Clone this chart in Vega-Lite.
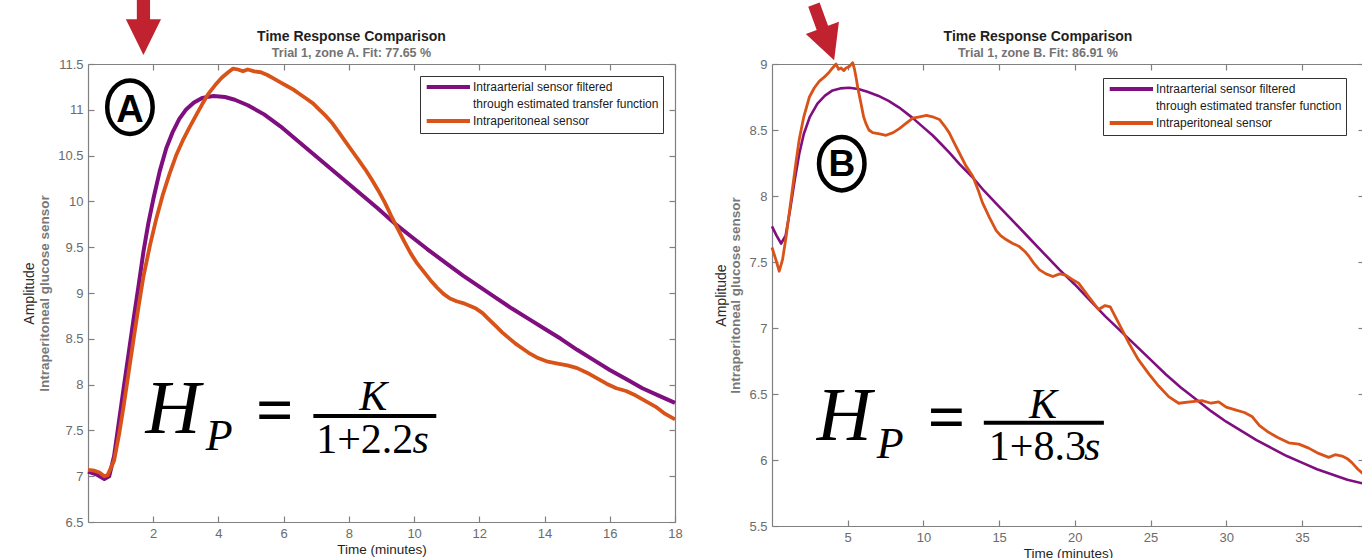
{
  "$schema": "https://vega.github.io/schema/vega-lite/v6.json",
  "background": "white",
  "padding": {"left": 22, "top": 0, "right": 0, "bottom": 0},
  "spacing": 31,
  "config": {
    "view": {"stroke": null},
    "font": "Liberation Sans",
    "axis": {
      "grid": false,
      "domainColor": "#808080",
      "domainWidth": 1.2,
      "tickColor": "#808080",
      "tickWidth": 1.2,
      "tickSize": -6,
      "labelColor": "#6b6b6b",
      "labelFontSize": 13,
      "labelFont": "Liberation Sans",
      "titleFont": "Liberation Sans",
      "labelFlush": false,
      "labelOverlap": false
    },
    "title": {
      "font": "Liberation Sans",
      "fontSize": 14,
      "fontWeight": "bold",
      "color": "#1f1f1f",
      "subtitleFont": "Liberation Sans",
      "subtitleFontSize": 12.5,
      "subtitleFontWeight": "bold",
      "subtitleColor": "#737373",
      "subtitlePadding": 3,
      "anchor": "middle",
      "frame": "group"
    },
    "legend": {
      "orient": "none",
      "title": null,
      "symbolType": "M -0.86 0 L 7.8 0",
      "symbolSize": 100,
      "symbolStrokeWidth": 4,
      "strokeColor": "#333333",
      "fillColor": "#ffffff",
      "padding": 4,
      "rowPadding": 1,
      "labelOffset": 35,
      "labelFontSize": 12,
      "labelFont": "Liberation Sans",
      "labelColor": "#1a1a1a",
      "labelLimit": 400
    }
  },
  "resolve": {"scale": {"color": "independent"}, "legend": {"color": "independent"}},
  "datasets": {
    "lines": [
      {"p":"A","s":"art","t":0,"v":7.05},{"p":"A","s":"art","t":0.25,"v":7.02},{"p":"A","s":"art","t":0.5,"v":6.97},{"p":"A","s":"art","t":0.65,"v":7.0},{"p":"A","s":"art","t":0.8,"v":7.22},{"p":"A","s":"art","t":0.95,"v":7.6},{"p":"A","s":"art","t":1.1,"v":7.98},{"p":"A","s":"art","t":1.25,"v":8.35},{"p":"A","s":"art","t":1.4,"v":8.72},{"p":"A","s":"art","t":1.55,"v":9.08},{"p":"A","s":"art","t":1.7,"v":9.45},{"p":"A","s":"art","t":1.85,"v":9.76},{"p":"A","s":"art","t":2.0,"v":10.02},{"p":"A","s":"art","t":2.2,"v":10.33},{"p":"A","s":"art","t":2.4,"v":10.58},{"p":"A","s":"art","t":2.6,"v":10.76},{"p":"A","s":"art","t":2.8,"v":10.9},{"p":"A","s":"art","t":3.0,"v":11.0},{"p":"A","s":"art","t":3.25,"v":11.08},{"p":"A","s":"art","t":3.5,"v":11.13},{"p":"A","s":"art","t":3.85,"v":11.15},{"p":"A","s":"art","t":4.2,"v":11.14},{"p":"A","s":"art","t":4.5,"v":11.11},{"p":"A","s":"art","t":4.9,"v":11.05},{"p":"A","s":"art","t":5.4,"v":10.95},{"p":"A","s":"art","t":5.9,"v":10.82},{"p":"A","s":"art","t":6.4,"v":10.67},{"p":"A","s":"art","t":6.9,"v":10.52},{"p":"A","s":"art","t":7.4,"v":10.37},{"p":"A","s":"art","t":7.9,"v":10.22},{"p":"A","s":"art","t":8.4,"v":10.07},{"p":"A","s":"art","t":8.9,"v":9.92},{"p":"A","s":"art","t":9.4,"v":9.76},{"p":"A","s":"art","t":9.9,"v":9.62},{"p":"A","s":"art","t":10.4,"v":9.48},{"p":"A","s":"art","t":11.0,"v":9.32},{"p":"A","s":"art","t":11.5,"v":9.19},{"p":"A","s":"art","t":12.0,"v":9.07},{"p":"A","s":"art","t":12.5,"v":8.95},{"p":"A","s":"art","t":13.0,"v":8.83},{"p":"A","s":"art","t":13.5,"v":8.72},{"p":"A","s":"art","t":14.0,"v":8.61},{"p":"A","s":"art","t":14.5,"v":8.5},{"p":"A","s":"art","t":15.0,"v":8.38},{"p":"A","s":"art","t":15.5,"v":8.27},{"p":"A","s":"art","t":16.0,"v":8.16},{"p":"A","s":"art","t":16.5,"v":8.06},{"p":"A","s":"art","t":17.0,"v":7.96},{"p":"A","s":"art","t":17.5,"v":7.88},{"p":"A","s":"art","t":18.0,"v":7.8},
      {"p":"A","s":"per","t":0,"v":7.07},{"p":"A","s":"per","t":0.2,"v":7.06},{"p":"A","s":"per","t":0.35,"v":7.04},{"p":"A","s":"per","t":0.5,"v":7.0},{"p":"A","s":"per","t":0.6,"v":7.01},{"p":"A","s":"per","t":0.8,"v":7.17},{"p":"A","s":"per","t":0.95,"v":7.45},{"p":"A","s":"per","t":1.1,"v":7.78},{"p":"A","s":"per","t":1.25,"v":8.14},{"p":"A","s":"per","t":1.4,"v":8.5},{"p":"A","s":"per","t":1.55,"v":8.85},{"p":"A","s":"per","t":1.7,"v":9.18},{"p":"A","s":"per","t":1.9,"v":9.52},{"p":"A","s":"per","t":2.1,"v":9.82},{"p":"A","s":"per","t":2.3,"v":10.08},{"p":"A","s":"per","t":2.5,"v":10.3},{"p":"A","s":"per","t":2.7,"v":10.5},{"p":"A","s":"per","t":2.9,"v":10.66},{"p":"A","s":"per","t":3.1,"v":10.8},{"p":"A","s":"per","t":3.3,"v":10.93},{"p":"A","s":"per","t":3.5,"v":11.06},{"p":"A","s":"per","t":3.7,"v":11.18},{"p":"A","s":"per","t":3.9,"v":11.27},{"p":"A","s":"per","t":4.1,"v":11.35},{"p":"A","s":"per","t":4.3,"v":11.41},{"p":"A","s":"per","t":4.45,"v":11.45},{"p":"A","s":"per","t":4.6,"v":11.44},{"p":"A","s":"per","t":4.75,"v":11.42},{"p":"A","s":"per","t":4.9,"v":11.44},{"p":"A","s":"per","t":5.1,"v":11.42},{"p":"A","s":"per","t":5.3,"v":11.41},{"p":"A","s":"per","t":5.5,"v":11.38},{"p":"A","s":"per","t":5.7,"v":11.34},{"p":"A","s":"per","t":5.9,"v":11.3},{"p":"A","s":"per","t":6.1,"v":11.26},{"p":"A","s":"per","t":6.3,"v":11.22},{"p":"A","s":"per","t":6.5,"v":11.17},{"p":"A","s":"per","t":6.7,"v":11.12},{"p":"A","s":"per","t":6.9,"v":11.07},{"p":"A","s":"per","t":7.1,"v":11.0},{"p":"A","s":"per","t":7.3,"v":10.93},{"p":"A","s":"per","t":7.5,"v":10.85},{"p":"A","s":"per","t":7.7,"v":10.75},{"p":"A","s":"per","t":7.9,"v":10.65},{"p":"A","s":"per","t":8.1,"v":10.55},{"p":"A","s":"per","t":8.3,"v":10.45},{"p":"A","s":"per","t":8.5,"v":10.35},{"p":"A","s":"per","t":8.7,"v":10.24},{"p":"A","s":"per","t":8.9,"v":10.12},{"p":"A","s":"per","t":9.1,"v":9.99},{"p":"A","s":"per","t":9.3,"v":9.84},{"p":"A","s":"per","t":9.5,"v":9.7},{"p":"A","s":"per","t":9.7,"v":9.56},{"p":"A","s":"per","t":9.9,"v":9.43},{"p":"A","s":"per","t":10.1,"v":9.32},{"p":"A","s":"per","t":10.3,"v":9.23},{"p":"A","s":"per","t":10.5,"v":9.14},{"p":"A","s":"per","t":10.7,"v":9.06},{"p":"A","s":"per","t":10.9,"v":8.99},{"p":"A","s":"per","t":11.1,"v":8.94},{"p":"A","s":"per","t":11.3,"v":8.91},{"p":"A","s":"per","t":11.5,"v":8.89},{"p":"A","s":"per","t":11.7,"v":8.86},{"p":"A","s":"per","t":11.9,"v":8.83},{"p":"A","s":"per","t":12.1,"v":8.78},{"p":"A","s":"per","t":12.3,"v":8.71},{"p":"A","s":"per","t":12.5,"v":8.64},{"p":"A","s":"per","t":12.7,"v":8.57},{"p":"A","s":"per","t":12.9,"v":8.51},{"p":"A","s":"per","t":13.1,"v":8.45},{"p":"A","s":"per","t":13.3,"v":8.4},{"p":"A","s":"per","t":13.5,"v":8.35},{"p":"A","s":"per","t":13.8,"v":8.29},{"p":"A","s":"per","t":14.1,"v":8.25},{"p":"A","s":"per","t":14.4,"v":8.23},{"p":"A","s":"per","t":14.7,"v":8.21},{"p":"A","s":"per","t":15.0,"v":8.18},{"p":"A","s":"per","t":15.3,"v":8.13},{"p":"A","s":"per","t":15.6,"v":8.07},{"p":"A","s":"per","t":15.9,"v":8.01},{"p":"A","s":"per","t":16.2,"v":7.96},{"p":"A","s":"per","t":16.5,"v":7.93},{"p":"A","s":"per","t":16.8,"v":7.88},{"p":"A","s":"per","t":17.1,"v":7.82},{"p":"A","s":"per","t":17.4,"v":7.76},{"p":"A","s":"per","t":17.7,"v":7.68},{"p":"A","s":"per","t":18.0,"v":7.62},
      {"p":"B","s":"art","t":0,"v":7.77},{"p":"B","s":"art","t":0.3,"v":7.7},{"p":"B","s":"art","t":0.6,"v":7.64},{"p":"B","s":"art","t":0.9,"v":7.7},{"p":"B","s":"art","t":1.2,"v":7.9},{"p":"B","s":"art","t":1.5,"v":8.12},{"p":"B","s":"art","t":1.8,"v":8.32},{"p":"B","s":"art","t":2.1,"v":8.47},{"p":"B","s":"art","t":2.5,"v":8.6},{"p":"B","s":"art","t":3.0,"v":8.7},{"p":"B","s":"art","t":3.5,"v":8.76},{"p":"B","s":"art","t":4.0,"v":8.8},{"p":"B","s":"art","t":4.5,"v":8.815},{"p":"B","s":"art","t":5.1,"v":8.82},{"p":"B","s":"art","t":5.7,"v":8.81},{"p":"B","s":"art","t":6.3,"v":8.79},{"p":"B","s":"art","t":7.0,"v":8.76},{"p":"B","s":"art","t":7.7,"v":8.72},{"p":"B","s":"art","t":8.4,"v":8.67},{"p":"B","s":"art","t":9.3,"v":8.59},{"p":"B","s":"art","t":10.0,"v":8.52},{"p":"B","s":"art","t":10.6,"v":8.46},{"p":"B","s":"art","t":11.2,"v":8.39},{"p":"B","s":"art","t":11.7,"v":8.33},{"p":"B","s":"art","t":12.4,"v":8.24},{"p":"B","s":"art","t":13.26,"v":8.14},{"p":"B","s":"art","t":14.0,"v":8.04},{"p":"B","s":"art","t":15.0,"v":7.92},{"p":"B","s":"art","t":16.0,"v":7.8},{"p":"B","s":"art","t":17.0,"v":7.68},{"p":"B","s":"art","t":18.0,"v":7.56},{"p":"B","s":"art","t":19.0,"v":7.44},{"p":"B","s":"art","t":20.0,"v":7.33},{"p":"B","s":"art","t":21.0,"v":7.21},{"p":"B","s":"art","t":22.0,"v":7.09},{"p":"B","s":"art","t":23.0,"v":6.98},{"p":"B","s":"art","t":24.0,"v":6.87},{"p":"B","s":"art","t":25.0,"v":6.76},{"p":"B","s":"art","t":26.0,"v":6.65},{"p":"B","s":"art","t":27.0,"v":6.55},{"p":"B","s":"art","t":28.0,"v":6.46},{"p":"B","s":"art","t":29.0,"v":6.37},{"p":"B","s":"art","t":30.0,"v":6.29},{"p":"B","s":"art","t":31.0,"v":6.22},{"p":"B","s":"art","t":32.0,"v":6.15},{"p":"B","s":"art","t":33.0,"v":6.09},{"p":"B","s":"art","t":34.0,"v":6.03},{"p":"B","s":"art","t":35.0,"v":5.98},{"p":"B","s":"art","t":36.0,"v":5.93},{"p":"B","s":"art","t":37.0,"v":5.89},{"p":"B","s":"art","t":38.0,"v":5.85},{"p":"B","s":"art","t":39.1,"v":5.82},
      {"p":"B","s":"per","t":0,"v":7.61},{"p":"B","s":"per","t":0.25,"v":7.52},{"p":"B","s":"per","t":0.48,"v":7.43},{"p":"B","s":"per","t":0.7,"v":7.52},{"p":"B","s":"per","t":0.93,"v":7.69},{"p":"B","s":"per","t":1.15,"v":7.88},{"p":"B","s":"per","t":1.37,"v":8.07},{"p":"B","s":"per","t":1.6,"v":8.27},{"p":"B","s":"per","t":1.8,"v":8.43},{"p":"B","s":"per","t":2.1,"v":8.6},{"p":"B","s":"per","t":2.47,"v":8.75},{"p":"B","s":"per","t":2.8,"v":8.82},{"p":"B","s":"per","t":3.13,"v":8.87},{"p":"B","s":"per","t":3.45,"v":8.9},{"p":"B","s":"per","t":3.79,"v":8.94},{"p":"B","s":"per","t":4.0,"v":8.97},{"p":"B","s":"per","t":4.23,"v":9.0},{"p":"B","s":"per","t":4.4,"v":8.96},{"p":"B","s":"per","t":4.56,"v":8.97},{"p":"B","s":"per","t":4.75,"v":8.95},{"p":"B","s":"per","t":4.89,"v":8.97},{"p":"B","s":"per","t":5.1,"v":8.98},{"p":"B","s":"per","t":5.33,"v":9.01},{"p":"B","s":"per","t":5.45,"v":8.96},{"p":"B","s":"per","t":5.55,"v":8.9},{"p":"B","s":"per","t":5.7,"v":8.8},{"p":"B","s":"per","t":5.88,"v":8.7},{"p":"B","s":"per","t":6.05,"v":8.6},{"p":"B","s":"per","t":6.2,"v":8.55},{"p":"B","s":"per","t":6.4,"v":8.5},{"p":"B","s":"per","t":6.65,"v":8.48},{"p":"B","s":"per","t":7.1,"v":8.47},{"p":"B","s":"per","t":7.53,"v":8.46},{"p":"B","s":"per","t":8.0,"v":8.48},{"p":"B","s":"per","t":8.41,"v":8.51},{"p":"B","s":"per","t":8.85,"v":8.55},{"p":"B","s":"per","t":9.3,"v":8.59},{"p":"B","s":"per","t":9.75,"v":8.6},{"p":"B","s":"per","t":10.2,"v":8.61},{"p":"B","s":"per","t":10.6,"v":8.6},{"p":"B","s":"per","t":11.06,"v":8.58},{"p":"B","s":"per","t":11.4,"v":8.53},{"p":"B","s":"per","t":11.7,"v":8.48},{"p":"B","s":"per","t":12.0,"v":8.41},{"p":"B","s":"per","t":12.4,"v":8.32},{"p":"B","s":"per","t":12.8,"v":8.23},{"p":"B","s":"per","t":13.26,"v":8.15},{"p":"B","s":"per","t":13.6,"v":8.05},{"p":"B","s":"per","t":13.9,"v":7.95},{"p":"B","s":"per","t":14.35,"v":7.84},{"p":"B","s":"per","t":14.8,"v":7.74},{"p":"B","s":"per","t":15.1,"v":7.7},{"p":"B","s":"per","t":15.46,"v":7.67},{"p":"B","s":"per","t":15.9,"v":7.64},{"p":"B","s":"per","t":16.3,"v":7.62},{"p":"B","s":"per","t":16.7,"v":7.58},{"p":"B","s":"per","t":16.99,"v":7.54},{"p":"B","s":"per","t":17.3,"v":7.49},{"p":"B","s":"per","t":17.67,"v":7.44},{"p":"B","s":"per","t":18.1,"v":7.41},{"p":"B","s":"per","t":18.55,"v":7.39},{"p":"B","s":"per","t":19.0,"v":7.41},{"p":"B","s":"per","t":19.4,"v":7.4},{"p":"B","s":"per","t":19.8,"v":7.37},{"p":"B","s":"per","t":20.25,"v":7.34},{"p":"B","s":"per","t":20.9,"v":7.24},{"p":"B","s":"per","t":21.57,"v":7.14},{"p":"B","s":"per","t":22.0,"v":7.17},{"p":"B","s":"per","t":22.34,"v":7.16},{"p":"B","s":"per","t":22.7,"v":7.08},{"p":"B","s":"per","t":23.11,"v":6.99},{"p":"B","s":"per","t":23.6,"v":6.88},{"p":"B","s":"per","t":24.2,"v":6.76},{"p":"B","s":"per","t":24.9,"v":6.65},{"p":"B","s":"per","t":25.54,"v":6.56},{"p":"B","s":"per","t":26.2,"v":6.48},{"p":"B","s":"per","t":26.86,"v":6.43},{"p":"B","s":"per","t":27.6,"v":6.44},{"p":"B","s":"per","t":28.4,"v":6.45},{"p":"B","s":"per","t":29.0,"v":6.43},{"p":"B","s":"per","t":29.5,"v":6.44},{"p":"B","s":"per","t":30.0,"v":6.4},{"p":"B","s":"per","t":30.6,"v":6.38},{"p":"B","s":"per","t":31.2,"v":6.36},{"p":"B","s":"per","t":31.7,"v":6.33},{"p":"B","s":"per","t":32.2,"v":6.26},{"p":"B","s":"per","t":32.8,"v":6.21},{"p":"B","s":"per","t":33.4,"v":6.17},{"p":"B","s":"per","t":34.13,"v":6.13},{"p":"B","s":"per","t":34.8,"v":6.12},{"p":"B","s":"per","t":35.45,"v":6.09},{"p":"B","s":"per","t":36.1,"v":6.05},{"p":"B","s":"per","t":36.77,"v":6.02},{"p":"B","s":"per","t":37.2,"v":6.04},{"p":"B","s":"per","t":37.65,"v":6.03},{"p":"B","s":"per","t":38.0,"v":6.01},{"p":"B","s":"per","t":38.3,"v":5.98},{"p":"B","s":"per","t":38.7,"v":5.93},{"p":"B","s":"per","t":39.1,"v":5.89}
    ],
    "notes": [
      {"p":"A","k":"arrow","t":1.70,"v":11.898},
      {"p":"A","k":"ring","t":1.286,"v":11.028},
      {"p":"A","k":"letter","t":1.286,"v":10.872,"label":"A"},
      {"p":"A","k":"H","t":1.763,"v":7.472,"label":"H"},
      {"p":"A","k":"P","t":3.609,"v":7.286,"label":"P"},
      {"p":"A","k":"eq","t":5.154,"v":7.483,"label":"="},
      {"p":"A","k":"it","t":8.317,"v":7.723,"label":"K"},
      {"p":"A","k":"it","t":9.948,"v":7.253,"label":"s"},
      {"p":"A","k":"den","t":6.997,"v":7.253,"label":"1+2.2"},
      {"p":"A","k":"bar","t":6.91,"t2":10.68,"v":7.657},
      {"p":"B","k":"arrow","t":3.483,"v":9.2247},
      {"p":"B","k":"ring","t":4.607,"v":8.245},
      {"p":"B","k":"letter","t":4.607,"v":8.148,"label":"B"},
      {"p":"B","k":"H","t":2.954,"v":6.154,"label":"H"},
      {"p":"B","k":"P","t":6.92,"v":6.017,"label":"P"},
      {"p":"B","k":"eq","t":10.285,"v":6.157,"label":"="},
      {"p":"B","k":"it","t":16.97,"v":6.32,"label":"K"},
      {"p":"B","k":"it","t":20.6,"v":6.002,"label":"s"},
      {"p":"B","k":"den","t":14.32,"v":6.002,"label":"1+8.3"},
      {"p":"B","k":"bar","t":13.99,"t2":21.92,"v":6.282}
    ]
  },
  "hconcat": [
    {
      "vconcat": [
        {
          "width": 587,
          "height": 458,
          "title": {"text": "Time Response Comparison", "subtitle": "Trial 1, zone A. Fit: 77.65 %", "dx": -30, "offset": -59.5},
          "resolve": {"axis": {"x": "independent", "y": "independent"}},
          "layer": [
            {
              "data": {"name": "lines"},
              "transform": [{"filter": "datum.p == 'A' && datum.s == 'art'"}],
              "mark": {"type": "line", "strokeWidth": 4, "strokeJoin": "round"},
              "encoding": {
                "x": {"field": "t", "type": "quantitative", "scale": {"domain": [0, 18], "nice": false, "zero": false},
                      "axis": {"orient": "bottom", "values": [2,4,6,8,10,12,14,16,18], "format": "~g", "labelPadding": 11, "title": "Time (minutes)", "titleFontSize": 13.5, "titleFontWeight": "normal", "titleColor": "#1f1f1f", "titlePadding": 2}},
                "y": {"field": "v", "type": "quantitative", "scale": {"domain": [6.5, 11.5], "nice": false, "zero": false},
                      "axis": {"orient": "left", "values": [6.5,7,7.5,8,8.5,9,9.5,10,10.5,11,11.5], "format": "~g", "labelPadding": 11, "title": "Intraperitoneal glucose sensor", "titleFontSize": 13.5, "titleFontWeight": "bold", "titleColor": "#787878", "titlePadding": 6}},
                "color": {"field": "s", "type": "nominal",
                          "scale": {"domain": ["art", "art2", "per"], "range": ["#7f0f7f", "rgba(0,0,0,0)", "#D95319"]},
                          "legend": {"legendX": 332, "legendY": 12, "labelExpr": "datum.value == 'art' ? 'Intraarterial sensor filtered' : datum.value == 'art2' ? 'through estimated transfer function' : 'Intraperitoneal sensor'"}}
              }
            },
            {
              "data": {"name": "lines"},
              "transform": [{"filter": "datum.p == 'A' && datum.s == 'per'"}],
              "mark": {"type": "line", "strokeWidth": 3.8, "strokeJoin": "round"},
              "encoding": {
                "x": {"field": "t", "type": "quantitative", "scale": {"domain": [0, 18], "nice": false, "zero": false}, "axis": null},
                "y": {"field": "v", "type": "quantitative", "scale": {"domain": [6.5, 11.5], "nice": false, "zero": false}, "axis": null},
                "color": {"field": "s", "type": "nominal",
                          "scale": {"domain": ["art", "art2", "per"], "range": ["#7f0f7f", "rgba(0,0,0,0)", "#D95319"]},
                          "legend": {"legendX": 332, "legendY": 12, "labelExpr": "datum.value == 'art' ? 'Intraarterial sensor filtered' : datum.value == 'art2' ? 'through estimated transfer function' : 'Intraperitoneal sensor'"}}
              }
            },
            {
              "data": {"name": "notes"},
              "transform": [{"filter": "datum.p == 'A' && datum.k == 'arrow'"}],
              "mark": {"type": "point", "shape": "M -0.24 -1 L 0.24 -1 L 0.24 -0.3 L 0.64 -0.3 L 0 1 L -0.64 -0.3 L -0.24 -0.3 Z", "filled": true, "fill": "#C0222F", "strokeWidth": 0, "size": 3025, "opacity": 1},
              "encoding": {
                "x": {"field": "t", "type": "quantitative", "scale": {"domain": [0, 18], "nice": false, "zero": false},
                      "axis": {"orient": "top", "values": [2,4,6,8,10,12,14,16,18], "labels": false, "title": null}},
                "y": {"field": "v", "type": "quantitative", "scale": {"domain": [6.5, 11.5], "nice": false, "zero": false},
                      "axis": {"orient": "right", "values": [6.5,7,7.5,8,8.5,9,9.5,10,10.5,11,11.5], "labels": false, "title": null}}
              }
            },
            {
              "data": {"name": "notes"},
              "transform": [{"filter": "datum.p == 'A' && datum.k == 'ring'"}],
              "mark": {"type": "point", "shape": "M -0.85 0 A 0.85 1 0 1 1 0.85 0 A 0.85 1 0 1 1 -0.85 0 Z", "filled": false, "stroke": "#000000", "strokeWidth": 4.5, "size": 2862, "opacity": 1},
              "encoding": {
                "x": {"field": "t", "type": "quantitative", "scale": {"domain": [0, 18], "nice": false, "zero": false}, "axis": null},
                "y": {"field": "v", "type": "quantitative", "scale": {"domain": [6.5, 11.5], "nice": false, "zero": false},
                      "axis": {"orient": "left", "labels": false, "ticks": false, "domain": false, "title": "Amplitude", "titleFontSize": 14, "titleFontWeight": "normal", "titleColor": "#2a2a2a", "titlePadding": 52}}
              }
            },
            {
              "data": {"name": "notes"},
              "transform": [{"filter": "datum.p == 'A' && datum.k == 'letter'"}],
              "mark": {"type": "text", "font": "Liberation Sans", "fontWeight": "bold", "fontSize": 38, "align": "center", "baseline": "alphabetic", "color": "#000000"},
              "encoding": {
                "x": {"field": "t", "type": "quantitative", "scale": {"domain": [0, 18], "nice": false, "zero": false}, "axis": null},
                "y": {"field": "v", "type": "quantitative", "scale": {"domain": [6.5, 11.5], "nice": false, "zero": false}, "axis": null},
                "text": {"field": "label"}
              }
            },
            {
              "data": {"name": "notes"},
              "transform": [{"filter": "datum.p == 'A' && datum.k == 'H'"}],
              "mark": {"type": "text", "font": "Liberation Serif", "fontStyle": "italic", "fontSize": 76, "align": "left", "baseline": "alphabetic", "color": "#000000"},
              "encoding": {
                "x": {"field": "t", "type": "quantitative", "scale": {"domain": [0, 18], "nice": false, "zero": false}, "axis": null},
                "y": {"field": "v", "type": "quantitative", "scale": {"domain": [6.5, 11.5], "nice": false, "zero": false}, "axis": null},
                "text": {"field": "label"}
              }
            },
            {
              "data": {"name": "notes"},
              "transform": [{"filter": "datum.p == 'A' && datum.k == 'P'"}],
              "mark": {"type": "text", "font": "Liberation Serif", "fontStyle": "italic", "fontSize": 44, "align": "left", "baseline": "alphabetic", "color": "#000000"},
              "encoding": {
                "x": {"field": "t", "type": "quantitative", "scale": {"domain": [0, 18], "nice": false, "zero": false}, "axis": null},
                "y": {"field": "v", "type": "quantitative", "scale": {"domain": [6.5, 11.5], "nice": false, "zero": false}, "axis": null},
                "text": {"field": "label"}
              }
            },
            {
              "data": {"name": "notes"},
              "transform": [{"filter": "datum.p == 'A' && datum.k == 'eq'"}],
              "mark": {"type": "text", "font": "Liberation Serif", "fontWeight": "bold", "fontSize": 66, "align": "left", "baseline": "alphabetic", "color": "#000000"},
              "encoding": {
                "x": {"field": "t", "type": "quantitative", "scale": {"domain": [0, 18], "nice": false, "zero": false}, "axis": null},
                "y": {"field": "v", "type": "quantitative", "scale": {"domain": [6.5, 11.5], "nice": false, "zero": false}, "axis": null},
                "text": {"field": "label"}
              }
            },
            {
              "data": {"name": "notes"},
              "transform": [{"filter": "datum.p == 'A' && datum.k == 'it'"}],
              "mark": {"type": "text", "font": "Liberation Serif", "fontStyle": "italic", "fontSize": 42, "align": "left", "baseline": "alphabetic", "color": "#000000"},
              "encoding": {
                "x": {"field": "t", "type": "quantitative", "scale": {"domain": [0, 18], "nice": false, "zero": false}, "axis": null},
                "y": {"field": "v", "type": "quantitative", "scale": {"domain": [6.5, 11.5], "nice": false, "zero": false}, "axis": null},
                "text": {"field": "label"}
              }
            },
            {
              "data": {"name": "notes"},
              "transform": [{"filter": "datum.p == 'A' && datum.k == 'den'"}],
              "mark": {"type": "text", "font": "Liberation Serif", "fontSize": 42, "align": "left", "baseline": "alphabetic", "color": "#000000"},
              "encoding": {
                "x": {"field": "t", "type": "quantitative", "scale": {"domain": [0, 18], "nice": false, "zero": false}, "axis": null},
                "y": {"field": "v", "type": "quantitative", "scale": {"domain": [6.5, 11.5], "nice": false, "zero": false}, "axis": null},
                "text": {"field": "label"}
              }
            },
            {
              "data": {"name": "notes"},
              "transform": [{"filter": "datum.p == 'A' && datum.k == 'bar'"}],
              "mark": {"type": "rule", "strokeWidth": 4, "color": "#000000"},
              "encoding": {
                "x": {"field": "t", "type": "quantitative", "scale": {"domain": [0, 18], "nice": false, "zero": false}, "axis": null},
                "x2": {"field": "t2"},
                "y": {"field": "v", "type": "quantitative", "scale": {"domain": [6.5, 11.5], "nice": false, "zero": false}, "axis": null}
              }
            }
          ]
        }
      ]
    },
    {
      "vconcat": [
        {
          "width": 592,
          "height": 462,
          "title": {"text": "Time Response Comparison", "subtitle": "Trial 1, zone B. Fit: 86.91 %", "dx": -30, "offset": -57},
          "resolve": {"axis": {"x": "independent", "y": "independent"}},
          "layer": [
            {
              "data": {"name": "lines"},
              "transform": [{"filter": "datum.p == 'B' && datum.s == 'art'"}],
              "mark": {"type": "line", "strokeWidth": 2.6, "strokeJoin": "round"},
              "encoding": {
                "x": {"field": "t", "type": "quantitative", "scale": {"domain": [0, 39.1], "nice": false, "zero": false},
                      "axis": {"orient": "bottom", "values": [5,10,15,20,25,30,35], "format": "~g", "labelPadding": 11, "title": "Time (minutes)", "titleFontSize": 13.5, "titleFontWeight": "normal", "titleColor": "#1f1f1f", "titlePadding": 2}},
                "y": {"field": "v", "type": "quantitative", "scale": {"domain": [5.5, 9], "nice": false, "zero": false},
                      "axis": {"orient": "left", "values": [5.5,6,6.5,7,7.5,8,8.5,9], "format": "~g", "labelPadding": 11, "title": "Intraperitoneal glucose sensor", "titleFontSize": 13.5, "titleFontWeight": "bold", "titleColor": "#787878", "titlePadding": 6}},
                "color": {"field": "s", "type": "nominal",
                          "scale": {"domain": ["art", "art2", "per"], "range": ["#7f0f7f", "rgba(0,0,0,0)", "#D95319"]},
                          "legend": {"legendX": 331, "legendY": 14, "labelExpr": "datum.value == 'art' ? 'Intraarterial sensor filtered' : datum.value == 'art2' ? 'through estimated transfer function' : 'Intraperitoneal sensor'"}}
              }
            },
            {
              "data": {"name": "lines"},
              "transform": [{"filter": "datum.p == 'B' && datum.s == 'per'"}],
              "mark": {"type": "line", "strokeWidth": 2.8, "strokeJoin": "round"},
              "encoding": {
                "x": {"field": "t", "type": "quantitative", "scale": {"domain": [0, 39.1], "nice": false, "zero": false}, "axis": null},
                "y": {"field": "v", "type": "quantitative", "scale": {"domain": [5.5, 9], "nice": false, "zero": false}, "axis": null},
                "color": {"field": "s", "type": "nominal",
                          "scale": {"domain": ["art", "art2", "per"], "range": ["#7f0f7f", "rgba(0,0,0,0)", "#D95319"]},
                          "legend": {"legendX": 331, "legendY": 14, "labelExpr": "datum.value == 'art' ? 'Intraarterial sensor filtered' : datum.value == 'art2' ? 'through estimated transfer function' : 'Intraperitoneal sensor'"}}
              }
            },
            {
              "data": {"name": "notes"},
              "transform": [{"filter": "datum.p == 'B' && datum.k == 'arrow'"}],
              "mark": {"type": "point", "shape": "M -0.22 -1.15 L 0.22 -1.15 L 0.22 -0.25 L 0.64 -0.25 L 0 1 L -0.64 -0.25 L -0.22 -0.25 Z", "filled": true, "fill": "#C0222F", "strokeWidth": 0, "size": 3025, "angle": 340, "opacity": 1},
              "encoding": {
                "x": {"field": "t", "type": "quantitative", "scale": {"domain": [0, 39.1], "nice": false, "zero": false},
                      "axis": {"orient": "top", "values": [5,10,15,20,25,30,35], "labels": false, "title": null}},
                "y": {"field": "v", "type": "quantitative", "scale": {"domain": [5.5, 9], "nice": false, "zero": false},
                      "axis": {"orient": "right", "values": [5.5,6,6.5,7,7.5,8,8.5,9], "labels": false, "title": null}}
              }
            },
            {
              "data": {"name": "notes"},
              "transform": [{"filter": "datum.p == 'B' && datum.k == 'ring'"}],
              "mark": {"type": "point", "shape": "M -0.85 0 A 0.85 1 0 1 1 0.85 0 A 0.85 1 0 1 1 -0.85 0 Z", "filled": false, "stroke": "#000000", "strokeWidth": 4.5, "size": 2862, "opacity": 1},
              "encoding": {
                "x": {"field": "t", "type": "quantitative", "scale": {"domain": [0, 39.1], "nice": false, "zero": false}, "axis": null},
                "y": {"field": "v", "type": "quantitative", "scale": {"domain": [5.5, 9], "nice": false, "zero": false},
                      "axis": {"orient": "left", "labels": false, "ticks": false, "domain": false, "title": "Amplitude", "titleFontSize": 14, "titleFontWeight": "normal", "titleColor": "#2a2a2a", "titlePadding": 44}}
              }
            },
            {
              "data": {"name": "notes"},
              "transform": [{"filter": "datum.p == 'B' && datum.k == 'letter'"}],
              "mark": {"type": "text", "font": "Liberation Sans", "fontWeight": "bold", "fontSize": 37, "align": "center", "baseline": "alphabetic", "color": "#000000"},
              "encoding": {
                "x": {"field": "t", "type": "quantitative", "scale": {"domain": [0, 39.1], "nice": false, "zero": false}, "axis": null},
                "y": {"field": "v", "type": "quantitative", "scale": {"domain": [5.5, 9], "nice": false, "zero": false}, "axis": null},
                "text": {"field": "label"}
              }
            },
            {
              "data": {"name": "notes"},
              "transform": [{"filter": "datum.p == 'B' && datum.k == 'H'"}],
              "mark": {"type": "text", "font": "Liberation Serif", "fontStyle": "italic", "fontSize": 76, "align": "left", "baseline": "alphabetic", "color": "#000000"},
              "encoding": {
                "x": {"field": "t", "type": "quantitative", "scale": {"domain": [0, 39.1], "nice": false, "zero": false}, "axis": null},
                "y": {"field": "v", "type": "quantitative", "scale": {"domain": [5.5, 9], "nice": false, "zero": false}, "axis": null},
                "text": {"field": "label"}
              }
            },
            {
              "data": {"name": "notes"},
              "transform": [{"filter": "datum.p == 'B' && datum.k == 'P'"}],
              "mark": {"type": "text", "font": "Liberation Serif", "fontStyle": "italic", "fontSize": 44, "align": "left", "baseline": "alphabetic", "color": "#000000"},
              "encoding": {
                "x": {"field": "t", "type": "quantitative", "scale": {"domain": [0, 39.1], "nice": false, "zero": false}, "axis": null},
                "y": {"field": "v", "type": "quantitative", "scale": {"domain": [5.5, 9], "nice": false, "zero": false}, "axis": null},
                "text": {"field": "label"}
              }
            },
            {
              "data": {"name": "notes"},
              "transform": [{"filter": "datum.p == 'B' && datum.k == 'eq'"}],
              "mark": {"type": "text", "font": "Liberation Serif", "fontWeight": "bold", "fontSize": 66, "align": "left", "baseline": "alphabetic", "color": "#000000"},
              "encoding": {
                "x": {"field": "t", "type": "quantitative", "scale": {"domain": [0, 39.1], "nice": false, "zero": false}, "axis": null},
                "y": {"field": "v", "type": "quantitative", "scale": {"domain": [5.5, 9], "nice": false, "zero": false}, "axis": null},
                "text": {"field": "label"}
              }
            },
            {
              "data": {"name": "notes"},
              "transform": [{"filter": "datum.p == 'B' && datum.k == 'it'"}],
              "mark": {"type": "text", "font": "Liberation Serif", "fontStyle": "italic", "fontSize": 42, "align": "left", "baseline": "alphabetic", "color": "#000000"},
              "encoding": {
                "x": {"field": "t", "type": "quantitative", "scale": {"domain": [0, 39.1], "nice": false, "zero": false}, "axis": null},
                "y": {"field": "v", "type": "quantitative", "scale": {"domain": [5.5, 9], "nice": false, "zero": false}, "axis": null},
                "text": {"field": "label"}
              }
            },
            {
              "data": {"name": "notes"},
              "transform": [{"filter": "datum.p == 'B' && datum.k == 'den'"}],
              "mark": {"type": "text", "font": "Liberation Serif", "fontSize": 42, "align": "left", "baseline": "alphabetic", "color": "#000000"},
              "encoding": {
                "x": {"field": "t", "type": "quantitative", "scale": {"domain": [0, 39.1], "nice": false, "zero": false}, "axis": null},
                "y": {"field": "v", "type": "quantitative", "scale": {"domain": [5.5, 9], "nice": false, "zero": false}, "axis": null},
                "text": {"field": "label"}
              }
            },
            {
              "data": {"name": "notes"},
              "transform": [{"filter": "datum.p == 'B' && datum.k == 'bar'"}],
              "mark": {"type": "rule", "strokeWidth": 4, "color": "#000000"},
              "encoding": {
                "x": {"field": "t", "type": "quantitative", "scale": {"domain": [0, 39.1], "nice": false, "zero": false}, "axis": null},
                "x2": {"field": "t2"},
                "y": {"field": "v", "type": "quantitative", "scale": {"domain": [5.5, 9], "nice": false, "zero": false}, "axis": null}
              }
            }
          ]
        }
      ]
    }
  ]
}
